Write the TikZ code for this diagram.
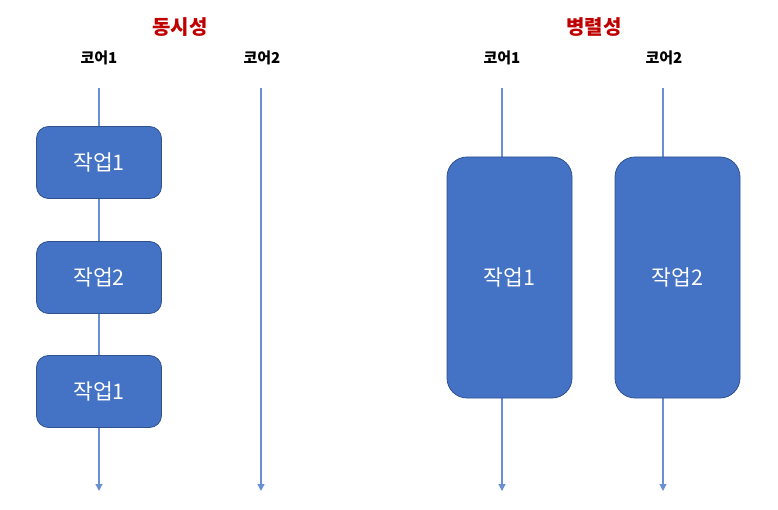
\documentclass[tikz,border=0pt]{standalone}
\usepackage{fontspec}
\setmainfont{Noto Sans CJK KR}
\usepackage{xcolor}
\usepackage{tikz}
\usetikzlibrary{arrows.meta}

\definecolor{taskblue}{HTML}{4472C4}
\definecolor{taskedge}{HTML}{2F528F}
\definecolor{coreline}{HTML}{6A8FD2}
\definecolor{titlered}{HTML}{C00000}

\tikzset{
    title/.style={font=\fontsize{20}{22}\selectfont\bfseries, text=titlered},
    corelabel/.style={font=\fontsize{15}{17}\selectfont\bfseries},
    coreline/.style={draw=coreline, line width=1.2pt, -{Triangle[length=7pt,width=7pt]}},
    task/.style={rectangle, draw=taskedge, fill=taskblue, text=white, line width=0.8pt,
        rounded corners=12pt, minimum width=125pt, minimum height=72pt,
        font=\fontsize{21.5}{23}\selectfont},
    longtask/.style={task, rounded corners=20pt, minimum height=241pt}
}

\begin{document}
\begin{tikzpicture}[x=1pt, y=-1pt]
        \useasboundingbox (0, 0) rectangle (778, 510);

        % 동시성
        \node[title] (concT) at (180, 27) {동시성};
        \node[corelabel] (cL1) at (99, 58) {코어1};
        \node[corelabel] (cL2) at (262, 58) {코어2};

        \coordinate (cTop1) at (99, 88);
        \coordinate (cBot1) at (99, 491);
        \coordinate (cTop2) at (261, 88);
        \coordinate (cBot2) at (261, 491);

        \draw[coreline] (cTop1) -- (cBot1);
        \draw[coreline] (cTop2) -- (cBot2);

        \node[task] (cJob1) at (99, 162.5) {작업1};
        \node[task] (cJob2) at (99, 277.5) {작업2};
        \node[task] (cJob3) at (99, 391.5) {작업1};

        % 병렬성
        \node[title] (parT) at (594, 27) {병렬성};
        \node[corelabel] (pL1) at (502, 58) {코어1};
        \node[corelabel] (pL2) at (664, 58) {코어2};

        \coordinate (pTop1) at (502, 88);
        \coordinate (pBot1) at (502, 491);
        \coordinate (pTop2) at (663, 88);
        \coordinate (pBot2) at (663, 491);

        \draw[coreline] (pTop1) -- (pBot1);
        \draw[coreline] (pTop2) -- (pBot2);

        \node[longtask] (pJob1) at (509.5, 277.5) {작업1};
        \node[longtask] (pJob2) at (677.5, 277.5) {작업2};
    \end{tikzpicture}
\end{document}
